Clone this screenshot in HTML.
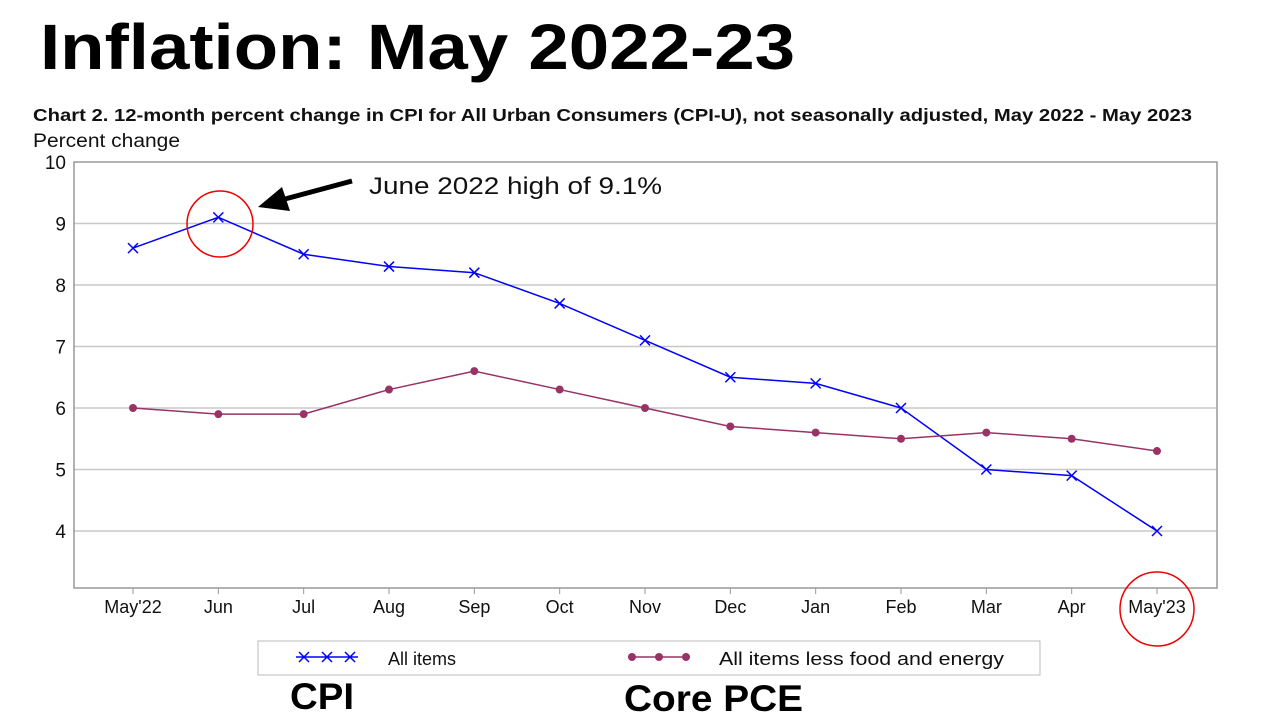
<!DOCTYPE html>
<html><head><meta charset="utf-8">
<style>
body{margin:0;width:1280px;height:720px;background:#fff;overflow:hidden;font-family:"Liberation Sans",sans-serif;}
svg{position:absolute;left:0;top:0}
</style></head>
<body>
<svg width="1280" height="720" id="chart">
<text x="40" y="69" font-size="64" font-weight="bold" fill="#000" textLength="755" lengthAdjust="spacingAndGlyphs">Inflation: May 2022-23</text>
<text x="33" y="121" font-size="17.5" font-weight="bold" fill="#111" textLength="1159" lengthAdjust="spacingAndGlyphs">Chart 2. 12-month percent change in CPI for All Urban Consumers (CPI-U), not seasonally adjusted, May 2022 - May 2023</text>
<text x="33" y="147" font-size="19" fill="#111" textLength="147" lengthAdjust="spacingAndGlyphs">Percent change</text>
<g id="grid"></g>
<rect x="74" y="162" width="1143" height="426" fill="none" stroke="#999" stroke-width="1.5"/>
<g id="series"></g>
<circle cx="220" cy="224" r="33" fill="none" stroke="#e00" stroke-width="1.5"/>
<circle cx="1157" cy="609" r="37" fill="none" stroke="#e00" stroke-width="1.5"/>
<line x1="352" y1="181" x2="285" y2="199" stroke="#000" stroke-width="5"/>
<polygon points="258,207 282,187 290,211" fill="#000"/>
<text x="369" y="194" font-size="24" fill="#111" textLength="293" lengthAdjust="spacingAndGlyphs">June 2022 high of 9.1%</text>
<rect x="258" y="641" width="782" height="34" fill="#fff" stroke="#bbb"/>
<g>
<line x1="296" y1="657" x2="358" y2="657" stroke="#00f" stroke-width="1.5"/>
<path d="M299 652l10 10M309 652l-10 10M322 652l10 10M332 652l-10 10M345 652l10 10M355 652l-10 10" stroke="#00f" stroke-width="1.5"/>
<text x="388" y="665" font-size="18" fill="#111">All items</text></g>
<g>
<line x1="628" y1="657" x2="690" y2="657" stroke="#993366" stroke-width="1.5"/>
<circle cx="632" cy="657" r="4" fill="#993366"/><circle cx="659" cy="657" r="4" fill="#993366"/><circle cx="686" cy="657" r="4" fill="#993366"/>
<text x="719" y="665" font-size="18" fill="#111" textLength="285" lengthAdjust="spacingAndGlyphs">All items less food and energy</text></g>
<text x="290" y="709" font-size="37" font-weight="bold" fill="#000" textLength="64" lengthAdjust="spacingAndGlyphs">CPI</text>
<text x="624" y="711" font-size="37" font-weight="bold" fill="#000" textLength="179" lengthAdjust="spacingAndGlyphs">Core PCE</text>
</svg>
<script>
const categories=["May'22","Jun","Jul","Aug","Sep","Oct","Nov","Dec","Jan","Feb","Mar","Apr","May'23"];
const allItems=[8.6,9.1,8.5,8.3,8.2,7.7,7.1,6.5,6.4,6.0,5.0,4.9,4.0];
const coreItems=[6.0,5.9,5.9,6.3,6.6,6.3,6.0,5.7,5.6,5.5,5.6,5.5,5.3];
const yTicks=[4,5,6,7,8,9,10];
const NS="http://www.w3.org/2000/svg";
const xS=i=>133+i*(1157-133)/(categories.length-1);
const yS=v=>531-(v-4)*(531-162)/6;
function mk(tag,attrs,parent){const e=document.createElementNS(NS,tag);for(const k in attrs)e.setAttribute(k,attrs[k]);parent.appendChild(e);return e;}
const grid=document.getElementById('grid'),ser=document.getElementById('series');
yTicks.forEach(t=>{
 if(t<10){const l=mk('line',{x1:74,x2:1217,y1:yS(t),y2:yS(t),stroke:'#c8c8c8','stroke-width':1.5},grid);
 
 }
 const tx=mk('text',{x:66,y:yS(t)+7,'font-size':19,'text-anchor':'end',fill:'#111'},grid);tx.textContent=t;
 
 
});
categories.forEach((c,i)=>{
 mk('line',{x1:xS(i),x2:xS(i),y1:588,y2:594,stroke:'#999'},grid);
 const tx=mk('text',{x:xS(i),y:613,'font-size':18,'text-anchor':'middle',fill:'#111'},grid);tx.textContent=c;
 
 
});
const p1=mk('polyline',{points:allItems.map((v,i)=>xS(i)+','+yS(v)).join(' '),fill:'none',stroke:'#00f','stroke-width':1.5},ser);


const p2=mk('polyline',{points:coreItems.map((v,i)=>xS(i)+','+yS(v)).join(' '),fill:'none',stroke:'#993366','stroke-width':1.5},ser);


allItems.forEach((v,i)=>{const x=xS(i),y=yS(v);
 const m=mk('path',{d:`M${x-5} ${y-5}L${x+5} ${y+5}M${x+5} ${y-5}L${x-5} ${y+5}`,stroke:'#00f','stroke-width':1.5},ser);
 
 });
coreItems.forEach((v,i)=>{
 const m=mk('circle',{cx:xS(i),cy:yS(v),r:4,fill:'#993366'},ser);
 
 });
</script>
</body></html>
